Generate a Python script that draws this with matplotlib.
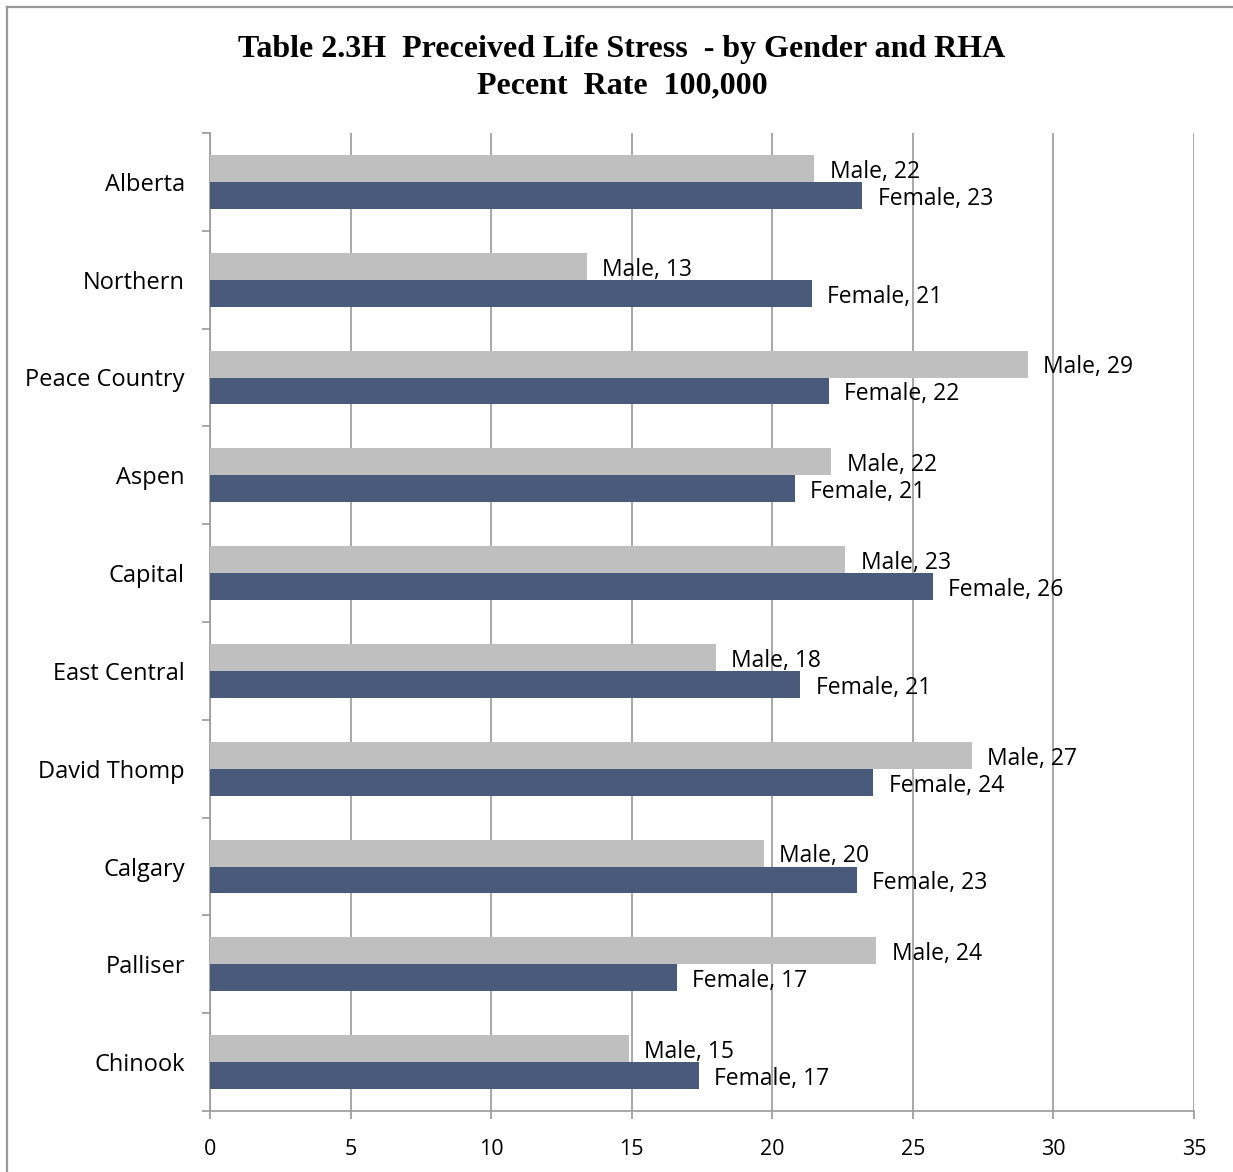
import matplotlib
matplotlib.use("Agg")
import matplotlib.pyplot as plt
from matplotlib.lines import Line2D

categories = ["Alberta", "Northern", "Peace Country", "Aspen", "Capital",
              "East Central", "David Thomp", "Calgary", "Palliser", "Chinook"]
male = [21.5, 13.4, 29.1, 22.1, 22.6, 18.0, 27.1, 19.7, 23.7, 14.9]
female = [23.2, 21.4, 22.0, 20.8, 25.7, 21.0, 23.6, 23.0, 16.6, 17.4]
xticks = [0, 5, 10, 15, 20, 25, 30, 35]
title1 = "Table 2.3H  Preceived Life Stress  - by Gender and RHA"
title2 = "Pecent  Rate  100,000"

W, H = 1233, 1172
fig = plt.figure(figsize=(W / 100, H / 100), dpi=100)
fig.patch.set_facecolor("white")

# chart border (top and left visible)
fig.add_artist(Line2D([7 / W, 7 / W], [0, 1 - 7 / H], transform=fig.transFigure,
                      color="#9a9a9a", lw=1.6))
fig.add_artist(Line2D([7 / W, 1], [1 - 7 / H, 1 - 7 / H], transform=fig.transFigure,
                      color="#9a9a9a", lw=1.6))

ax = fig.add_axes([210 / W, 61 / H, (1194 - 210) / W, (1111 - 133) / H])

male_c = "#BFBFBF"
fem_c = "#4A5A7A"
bh = 0.276
ypos = list(range(len(categories)))
ym = [y - bh / 2 for y in ypos]
yf = [y + bh / 2 for y in ypos]

ax.barh(ym, male, height=bh, color=male_c, zorder=3)
ax.barh(yf, female, height=bh, color=fem_c, zorder=3)

lab_font = dict(family=["Open Sans", "DejaVu Sans"], fontsize=16.5, color="black")
for y, v in zip(ym, male):
    ax.annotate(f"Male, {round(v)}", xy=(v, y), xytext=(11, -2.5), textcoords="offset points",
                va="center", ha="left", zorder=5, **lab_font)
for y, v in zip(yf, female):
    ax.annotate(f"Female, {round(v)}", xy=(v, y), xytext=(11, -2.5), textcoords="offset points",
                va="center", ha="left", zorder=5, **lab_font)

ax.set_xlim(0, 35)
ax.set_ylim(len(categories) - 0.5, -0.5)
ax.set_xticks(xticks)
ax.set_xticklabels([str(t) for t in xticks])
ax.set_yticks(ypos)
ax.set_yticklabels(categories)
ax.set_yticks([i - 0.5 for i in range(len(categories) + 1)], minor=True)

grid_c = "#9a9a9a"
ax.xaxis.grid(True, color=grid_c, lw=1.2, zorder=1)
ax.yaxis.grid(False)
ax.tick_params(axis="y", which="major", length=0, pad=18, labelsize=17)
ax.tick_params(axis="y", which="minor", length=6, width=1.2, color=grid_c, direction="out")
ax.tick_params(axis="x", which="major", length=6, width=1.2, color=grid_c, direction="out",
               pad=14, labelsize=15.5)
for lbl in ax.get_yticklabels() + ax.get_xticklabels():
    lbl.set_fontfamily(["Open Sans", "DejaVu Sans"])

for s in ["top", "right"]:
    ax.spines[s].set_visible(False)
for s in ["left", "bottom"]:
    ax.spines[s].set_color(grid_c)
    ax.spines[s].set_linewidth(1.2)
ax.set_facecolor("white")

tfont = dict(family=["Liberation Serif", "DejaVu Serif"], fontweight="bold", fontsize=23,
             ha="center", va="center")
fig.text(622 / W, 1 - 49 / H, title1, **tfont)
fig.text(622 / W, 1 - 86 / H, title2, **tfont)

fig.savefig("out.png", dpi=100, facecolor="white")
